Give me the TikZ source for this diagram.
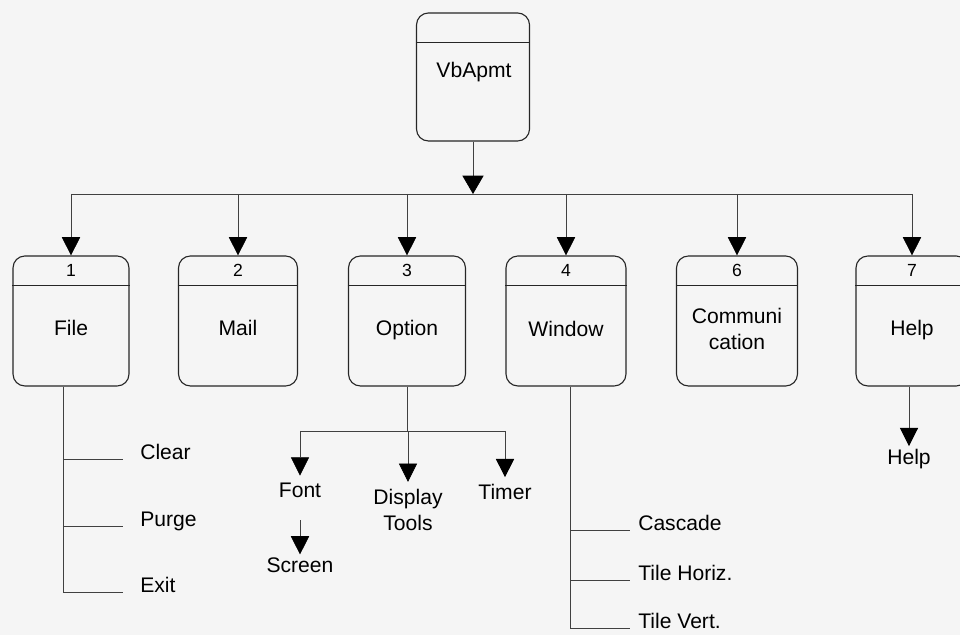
\documentclass[tikz,border=0pt]{standalone}
\usepackage{fontspec}
\setmainfont{Liberation Sans}
\usetikzlibrary{arrows.meta}
\tikzset{
  pbox/.style={draw=black!85, line width=0.8pt, rounded corners=8.5pt, minimum height=3.25cm, inner sep=0pt},
  pdivide/.style={draw=black!85, line width=0.7pt},
  pnum/.style={font=\fontsize{12.5}{14}\selectfont, inner sep=0pt},
  ptext/.style={font=\fontsize{15}{19}\selectfont, align=center, inner sep=2pt},
  pitem/.style={font=\fontsize{15}{19}\selectfont, inner sep=0pt},
  pwire/.style={line width=0.5pt, draw=black!75},
  parrow/.style={pwire, -{Triangle[length=13pt, width=13pt, color=black]}},
}

\begin{document}
\begin{tikzpicture}[x=0.025cm, y=-0.025cm]
\fill[black!4] (0,0) rectangle (960,635);
\clip (0,0) rectangle (960,635);

% top process
\node[pbox, minimum width=2.825cm, minimum height=3.2cm] (root) at (473,77) {};
\draw[pdivide] ([yshift=-0.75cm]root.north west) -- ([yshift=-0.75cm]root.north east);
\node[ptext] (roottext) at (474,72) {VbApmt};

% menu processes
\foreach \nm/\x/\w/\n/\y/\txt in {file/71/116/1/328/File, mail/238/119/2/328/Mail, option/407/117/3/330/Option,
    window/566/120/4/329/Window, comm/737/121/6/329/{Communi\\cation}, help/912/112/7/330/Help}{
  \node[pbox, minimum width=\w*0.025cm] (\nm) at (\x,321) {};
  \draw[pdivide] ([yshift=-0.75cm]\nm.north west) -- ([yshift=-0.75cm]\nm.north east);
  \node[pnum] (\nm num) at ([yshift=-0.375cm]\nm.north) {\n};
  \node[ptext] (\nm text) at (\x,\y) {\txt};
}

% main bus
\coordinate (bus) at (473,194);
\draw[parrow, -{Triangle[length=13pt, width=15pt, color=black]}] (root) -- (bus);
\draw[pwire] (file.north |- bus) -- (help.north |- bus);
\foreach \nm in {file, mail, option, window, comm, help}
  \draw[parrow] (\nm.north |- bus) -- (\nm.north);

% File menu
\coordinate (filefork) at ([xshift=-0.2cm]file.south);
\node[pitem, anchor=base west] (clear) at (140,459) {Clear};
\node[pitem, anchor=base west] (purge) at (140,526) {Purge};
\node[pitem, anchor=base west] (exit) at (140,592) {Exit};
\draw[pwire, shorten >=12pt] (filefork) |- (exit.base west);
\draw[pwire, shorten >=12pt] (filefork |- clear.base) -- (clear.base west);
\draw[pwire, shorten >=12pt] (filefork |- purge.base) -- (purge.base west);

% Option menu
\coordinate (optbus) at (407,431);
\node[ptext] (font) at (300,490) {Font};
\node[ptext] (display) at (408,510) {Display\\Tools};
\node[ptext] (timer) at (505,492) {Timer};
\node[ptext] (screen) at (300,565) {Screen};
\draw[pwire] (option.south) -- (optbus);
\draw[pwire] (font.north |- optbus) -- (timer.north |- optbus);
\draw[parrow] (font.north |- optbus) -- ([yshift=0.1cm]font.north);
\draw[parrow] (display.north |- optbus) -- ([yshift=0.1cm]display.north);
\draw[parrow] (timer.north |- optbus) -- ([yshift=0.1cm]timer.north);
\draw[parrow, shorten <=14pt] (font) -- (screen);

% Window menu
\coordinate (winfork) at ([xshift=0.1cm]window.south);
\node[pitem, anchor=base west] (cascade) at (638,530) {Cascade};
\node[pitem, anchor=base west] (horiz) at (638,580) {Tile Horiz.};
\node[pitem, anchor=base west] (vert) at (638,628) {Tile Vert.};
\draw[pwire, shorten >=6pt] (winfork) |- (vert.base west);
\draw[pwire, shorten >=6pt] (winfork |- cascade.base) -- (cascade.base west);
\draw[pwire, shorten >=6pt] (winfork |- horiz.base) -- (horiz.base west);

% Help menu
\node[ptext] (helpitem) at (909,459) {Help};
\draw[parrow] (help.south -| helpitem.north) -- (helpitem.north);
\end{tikzpicture}
\end{document}
